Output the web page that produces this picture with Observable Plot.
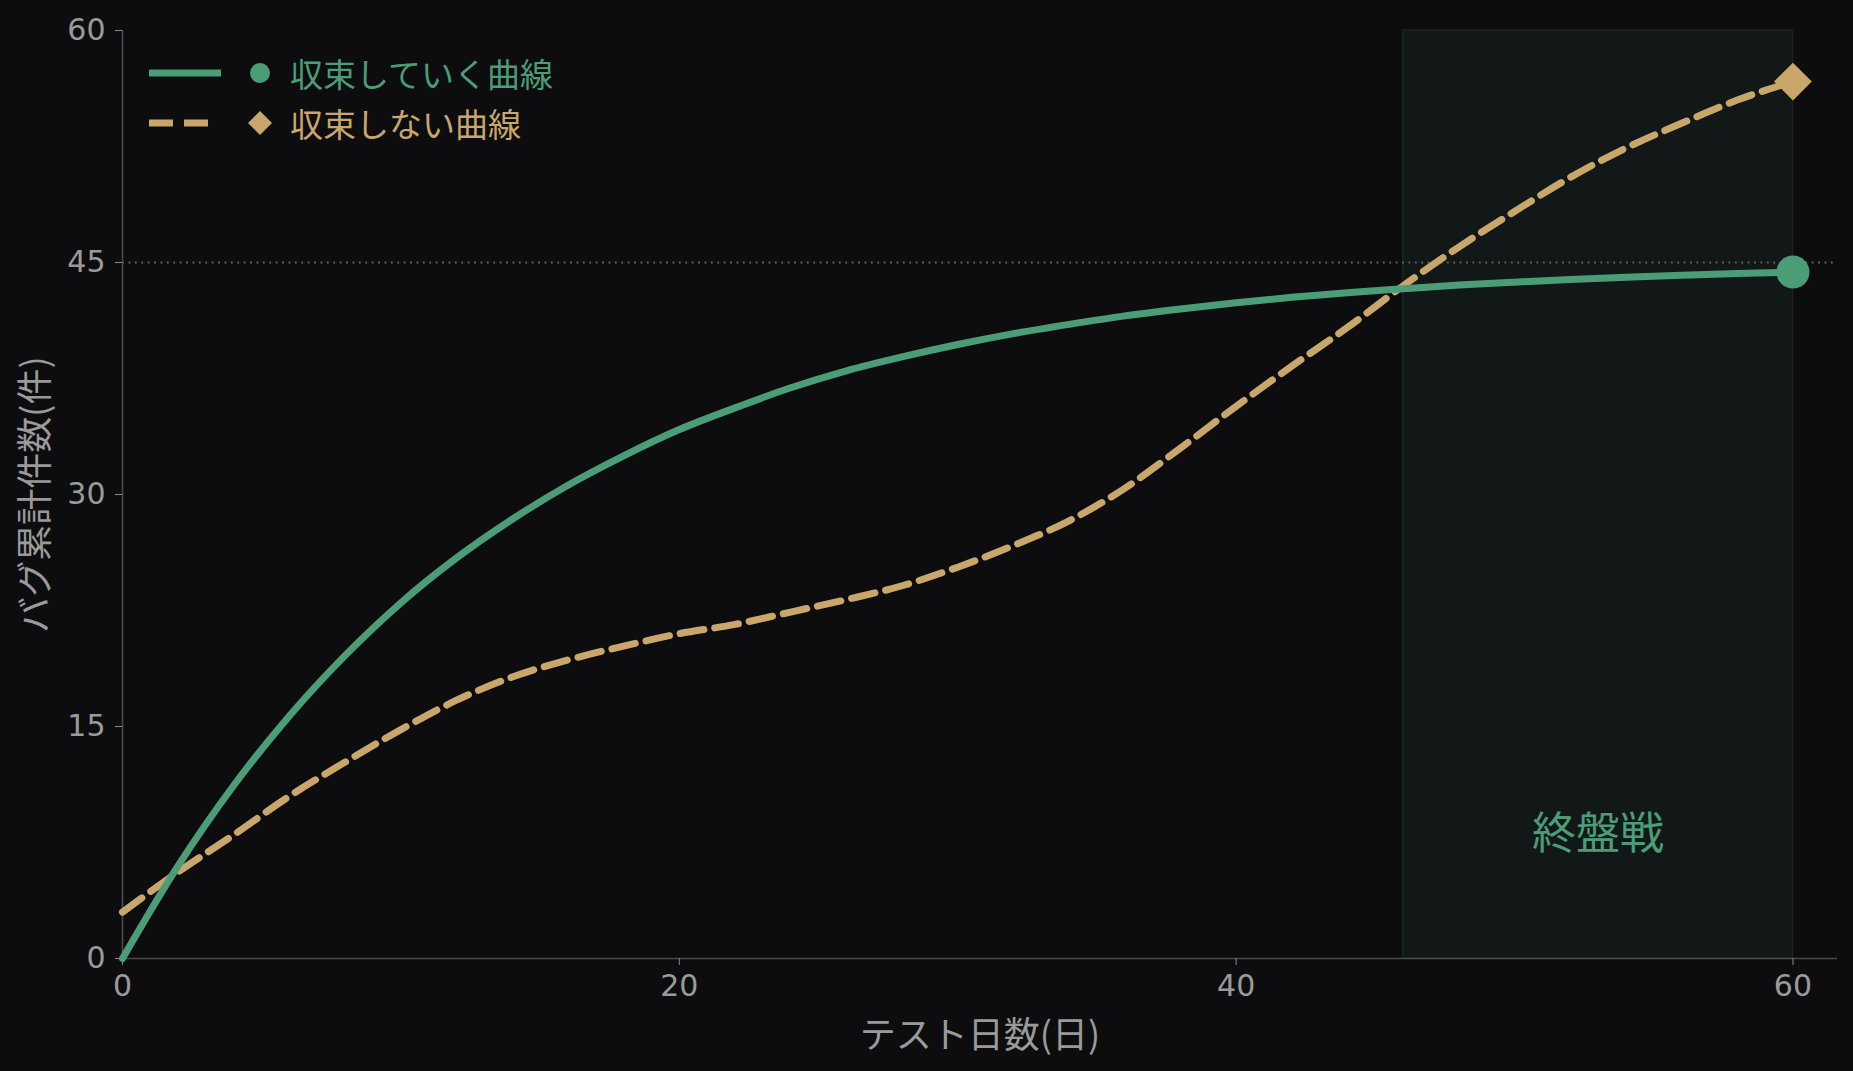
<!DOCTYPE html>
<html>
<head>
<meta charset="utf-8">
<script src="https://cdn.jsdelivr.net/npm/d3@7"></script>
<script src="https://cdn.jsdelivr.net/npm/@observablehq/plot@0.6"></script>
<style>
  html, body { margin: 0; padding: 0; background: #0d0d0f; }
  #wrap { position: relative; width: 1853px; height: 1071px; }
  #wrap svg { position: absolute; left: 0; top: 0; }
  .legend { position: absolute; left: 0; top: 0; font-family: "Noto Sans CJK JP", sans-serif; font-size: 33px; }
  .legend .row { position: absolute; left: 140px; height: 40px; display: flex; align-items: center; white-space: nowrap; }
  .legend svg { position: static !important; }
</style>
</head>
<body>
<div id="wrap"></div>
<script>
// ---- data ----
const days = [0, 2, 4, 6, 8, 10, 12, 14, 16, 18, 20, 22, 24, 26, 28, 30, 32, 34, 36, 38, 40, 42, 44, 46, 48, 50, 52, 54, 56, 58, 60];
const converging = [0, 6.0, 11.2, 15.7, 19.6, 23.0, 25.9, 28.4, 30.6, 32.5, 34.2, 35.6, 36.9, 38.0, 38.9, 39.7, 40.4, 41.0, 41.55, 42.0, 42.4, 42.75, 43.05, 43.3, 43.54, 43.73, 43.9, 44.05, 44.18, 44.29, 44.38];
const nonConverging = [3.0, 5.6, 8.0, 10.5, 12.7, 14.8, 16.7, 18.2, 19.3, 20.2, 21.0, 21.6, 22.4, 23.2, 24.1, 25.3, 26.7, 28.3, 30.4, 33.0, 35.7, 38.3, 40.8, 43.5, 46.0, 48.3, 50.5, 52.4, 54.0, 55.5, 56.7];
const seriesNames = ["収束していく曲線", "収束しない曲線"];
const endgameSpan = [46, 60];
const endgameLabel = "終盤戦";
const endgameLabelPos = [53, 8];
const limitLine = [45];
const xTicks = [0, 20, 40, 60];
const yTicks = [0, 15, 30, 45, 60];
const xLabel = "テスト日数(日)";
const yLabel = "バグ累計件数(件)";

// ---- styling ----
const GREEN = "#4b9d78";
const GOLD = "#c9a66a";
const TICK = "#9a9a9a";
const JP = "'Noto Sans CJK JP', sans-serif";

const convData = days.map((d, i) => ({day: d, bugs: converging[i]}));
const nonConvData = days.map((d, i) => ({day: d, bugs: nonConverging[i]}));

const chart = Plot.plot({
  width: 1853,
  height: 1071,
  marginLeft: 122,
  marginRight: 16,
  marginTop: 30,
  marginBottom: 113,
  x: {domain: [0, 61.6]},
  y: {domain: [0, 60]},
  style: {background: "transparent", color: TICK, fontFamily: "'DejaVu Sans', sans-serif", fontSize: "30px"},
  marks: [
    Plot.rect([{start: endgameSpan[0], end: endgameSpan[1], lo: 0, hi: 60}], {
      x1: "start", x2: "end", y1: "lo", y2: "hi", fill: "#121817", stroke: "#1a2320", strokeWidth: 1.5
    }),
    Plot.ruleY(limitLine, {stroke: "#5c5c5c", strokeWidth: 2, strokeDasharray: "2,4.4"}),
    Plot.ruleX([0], {stroke: "#4a4a4a", strokeWidth: 1.6}),
    Plot.ruleY([0], {stroke: "#4a4a4a", strokeWidth: 1.6}),
    Plot.axisX({ticks: xTicks, tickSize: 7, tickPadding: 9, stroke: "#8a8a8a", fill: TICK, fontSize: 30, label: null, tickFormat: d => d}),
    Plot.axisY({ticks: yTicks, tickSize: 7, tickPadding: 10, stroke: "#8a8a8a", fill: TICK, fontSize: 30, label: null, tickFormat: d => d}),
    Plot.text([xLabel], {frameAnchor: "bottom", dy: 78, text: d => d, fill: TICK, fontSize: 36, fontFamily: JP, lineAnchor: "middle", textAnchor: "middle"}),
    Plot.text([yLabel], {frameAnchor: "left", dx: -86, rotate: -90, text: d => d, fill: TICK, fontSize: 36, fontFamily: JP, lineAnchor: "middle", textAnchor: "middle"}),
    Plot.line(nonConvData, {x: "day", y: "bugs", stroke: GOLD, strokeWidth: 7, strokeDasharray: "24,11", curve: "monotone-x"}),
    Plot.line(convData, {x: "day", y: "bugs", stroke: GREEN, strokeWidth: 7, curve: "monotone-x"}),
    Plot.dot([convData[convData.length - 1]], {x: "day", y: "bugs", r: 16.5, fill: GREEN, stroke: "none"}),
    Plot.dot([nonConvData[nonConvData.length - 1]], {x: "day", y: "bugs", r: 17, symbol: "diamond2", fill: GOLD, stroke: "none"}),
    Plot.text([{x: endgameLabelPos[0], y: endgameLabelPos[1], t: endgameLabel}], {x: "x", y: "y", text: "t", fill: GREEN, fontSize: 44, fontFamily: JP})
  ]
});

const wrap = document.getElementById("wrap");
wrap.appendChild(chart);

// legend
const legend = document.createElement("div");
legend.className = "legend";
const rows = [
  {name: seriesNames[0], color: GREEN, dash: null, symbol: "circle", top: 53},
  {name: seriesNames[1], color: GOLD, dash: "24,11", symbol: "diamond", top: 103}
];
for (const r of rows) {
  const row = document.createElement("div");
  row.className = "row";
  row.style.top = r.top + "px";
  const sw = d3.create("svg").attr("width", 150).attr("height", 40);
  sw.append("line").attr("x1", 9).attr("x2", r.dash ? 75 : 81).attr("y1", 20).attr("y2", 20)
    .attr("stroke", r.color).attr("stroke-width", 7).attr("stroke-dasharray", r.dash);
  if (r.symbol === "circle") {
    sw.append("circle").attr("cx", 120).attr("cy", 20).attr("r", 10).attr("fill", r.color);
  } else {
    sw.append("path").attr("d", "M120,8L132,20L120,32L108,20Z").attr("fill", r.color);
  }
  row.appendChild(sw.node());
  const label = document.createElement("span");
  label.textContent = r.name;
  label.style.color = r.color;
  row.appendChild(label);
  legend.appendChild(row);
}
wrap.appendChild(legend);
</script>
</body>
</html>
